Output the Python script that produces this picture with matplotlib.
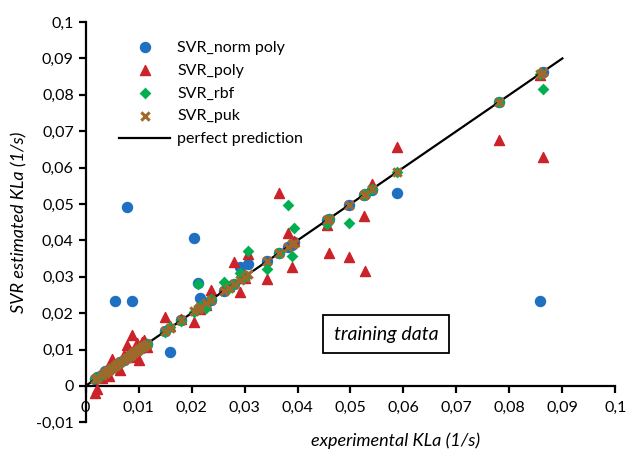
import numpy as np
import matplotlib
matplotlib.use('Agg')
import matplotlib.pyplot as plt
from matplotlib.ticker import FuncFormatter, MultipleLocator

plt.rcParams['font.family'] = ['Lato', 'DejaVu Sans']

# experimental KLa and the estimates of each SVR model
kla_exp = [0.0018, 0.0022, 0.0030, 0.0036, 0.0040, 0.0045, 0.0050, 0.0055, 0.0060, 0.0065,
           0.0072, 0.0078, 0.0083, 0.0088, 0.0092, 0.0097, 0.0101, 0.0106, 0.0110, 0.0115,
           0.0150, 0.0160, 0.0180, 0.0205, 0.0212, 0.0216, 0.0228, 0.0236, 0.0262, 0.0270,
           0.0280, 0.0292, 0.0300, 0.0307, 0.0343, 0.0365, 0.0382, 0.0389, 0.0394, 0.0455,
           0.0460, 0.0498, 0.0525, 0.0527, 0.0540, 0.0588, 0.0780, 0.0858, 0.0863]
svr_norm_poly = [0.0020, 0.0024, 0.0031, 0.0042, 0.0040, 0.0044, 0.0051, 0.0233, 0.0060, 0.0066,
                 0.0071, 0.0492, 0.0084, 0.0233, 0.0093, 0.0097, 0.0102, 0.0105, 0.0111, 0.0116,
                 0.0151, 0.0093, 0.0180, 0.0407, 0.0283, 0.0242, 0.0229, 0.0235, 0.0261, 0.0272,
                 0.0279, 0.0327, 0.0301, 0.0336, 0.0342, 0.0366, 0.0381, 0.0388, 0.0395, 0.0456,
                 0.0459, 0.0497, 0.0526, 0.0527, 0.0539, 0.0529, 0.0780, 0.0232, 0.0862]
svr_poly = [-0.0020, -0.0009, 0.0021, 0.0030, 0.0046, 0.0027, 0.0075, 0.0058, 0.0052, 0.0043,
            0.0085, 0.0112, 0.0095, 0.0139, 0.0080, 0.0118, 0.0071, 0.0122, 0.0126, 0.0108,
            0.0190, 0.0165, 0.0183, 0.0176, 0.0216, 0.0210, 0.0222, 0.0263, 0.0268, 0.0275,
            0.0341, 0.0258, 0.0296, 0.0362, 0.0295, 0.0529, 0.0420, 0.0327, 0.0398, 0.0441,
            0.0364, 0.0354, 0.0467, 0.0316, 0.0556, 0.0657, 0.0677, 0.0854, 0.0628]
svr_rbf = [0.0021, 0.0023, 0.0030, 0.0035, 0.0041, 0.0046, 0.0050, 0.0056, 0.0061, 0.0064,
           0.0072, 0.0079, 0.0082, 0.0089, 0.0091, 0.0098, 0.0100, 0.0107, 0.0110, 0.0114,
           0.0149, 0.0161, 0.0179, 0.0204, 0.0279, 0.0220, 0.0213, 0.0238, 0.0286, 0.0269,
           0.0281, 0.0309, 0.0300, 0.0371, 0.0320, 0.0364, 0.0496, 0.0356, 0.0435, 0.0446,
           0.0458, 0.0449, 0.0524, 0.0528, 0.0541, 0.0588, 0.0781, 0.0857, 0.0817]
svr_puk = [0.0019, 0.0022, 0.0030, 0.0036, 0.0040, 0.0045, 0.0050, 0.0055, 0.0060, 0.0065,
           0.0072, 0.0078, 0.0083, 0.0088, 0.0092, 0.0097, 0.0101, 0.0106, 0.0110, 0.0115,
           0.0150, 0.0160, 0.0180, 0.0205, 0.0212, 0.0216, 0.0228, 0.0236, 0.0262, 0.0270,
           0.0280, 0.0292, 0.0300, 0.0307, 0.0343, 0.0365, 0.0382, 0.0389, 0.0394, 0.0455,
           0.0460, 0.0498, 0.0525, 0.0527, 0.0540, 0.0588, 0.0780, 0.0858, 0.0863]
perfect = [0, 0.09]

fig = plt.figure(figsize=(6.39, 4.59), dpi=100)
ax = fig.add_axes([0.134, 0.08, 0.829, 0.872])

ax.scatter(kla_exp, svr_norm_poly, s=52, marker='o', color='#1f70c1', label='SVR_norm poly', zorder=2)
ax.scatter(kla_exp, svr_poly, s=52, marker='^', color='#cc2229', label='SVR_poly', zorder=3)
ax.scatter(kla_exp, svr_rbf, s=36, marker='D', color='#00b050', linewidths=0, label='SVR_rbf', zorder=4)
ax.plot(perfect, perfect, color='black', lw=1.6, label='perfect prediction', zorder=5)
ax.scatter(kla_exp, svr_puk, s=36, marker='x', color='#a0692b', linewidths=2.2, label='SVR_puk', zorder=6)

ax.set_xlim(0, 0.1)
ax.set_ylim(-0.01, 0.1)
ax.xaxis.set_major_locator(MultipleLocator(0.01))
ax.yaxis.set_major_locator(MultipleLocator(0.01))

fmt = FuncFormatter(lambda v, p: ('%.2f' % v).rstrip('0').rstrip('.').replace('.', ',') if abs(v) > 1e-9 else '0')
ax.xaxis.set_major_formatter(fmt)
ax.yaxis.set_major_formatter(fmt)

ax.spines['top'].set_visible(False)
ax.spines['right'].set_visible(False)
ax.spines['bottom'].set_position(('data', 0))
for sp in ['left', 'bottom']:
    ax.spines[sp].set_linewidth(1.6)
ax.tick_params(direction='out', length=5, width=1.6, labelsize=11.5, colors='black')
ax.tick_params(axis='x', pad=6)

ax.set_xlabel('experimental KLa (1/s)', fontsize=13, style='italic')
ax.set_ylabel('SVR estimated KLa (1/s)', fontsize=13, style='italic', labelpad=6)
ax.xaxis.set_label_coords(0.585, -0.025)

ax.text(0.0567, 0.0142, 'training data', fontsize=14, style='italic', ha='center', va='center',
        bbox=dict(boxstyle='square,pad=0.55', facecolor='white', edgecolor='black', lw=1.3), zorder=10)

handles, labels = ax.get_legend_handles_labels()
order = [0, 1, 2, 4, 3]
ax.legend([handles[i] for i in order], [labels[i] for i in order], loc='upper left',
          bbox_to_anchor=(0.036, 0.99), frameon=False, fontsize=11.5, handlelength=3.2,
          labelspacing=0.55, handletextpad=0.45)

fig.savefig('out.png', dpi=100)
